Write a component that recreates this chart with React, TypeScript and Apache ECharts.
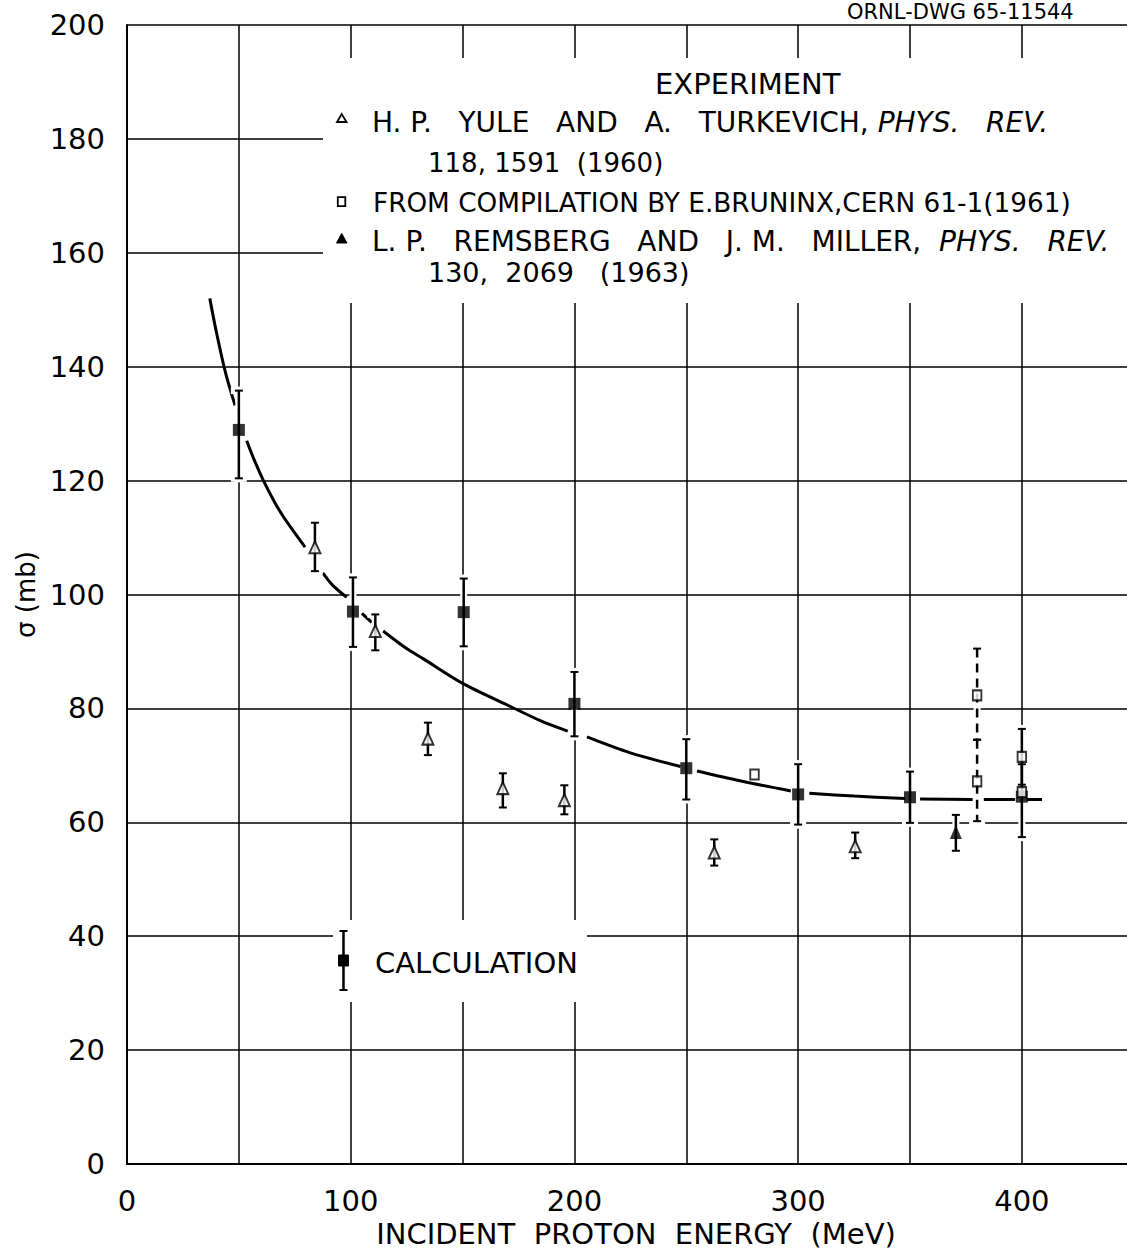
import React, { useEffect, useRef } from "react";
import * as echarts from "echarts";

// ---------------- data ----------------
// Calculation (filled squares with error bars)
const calcEnergy = [50, 101, 150.5, 200, 250, 300, 350, 400];
const calcSigma = [128.9, 97.0, 96.9, 80.8, 69.5, 64.9, 64.4, 64.5];
const calcLow = [120.4, 90.8, 90.9, 75.1, 64.0, 59.6, 59.9, 57.4];
const calcHigh = [135.8, 103.0, 102.8, 86.4, 74.6, 70.2, 68.9, 70.2];

// H. P. Yule and A. Turkevich (open triangles)
const yuleEnergy = [84, 111, 134.5, 168, 195.5, 262.5, 325.5];
const yuleSigma = [108.3, 93.6, 74.7, 66.0, 63.9, 54.7, 55.8];
const yuleLow = [104.1, 90.2, 71.8, 62.6, 61.4, 52.4, 53.7];
const yuleHigh = [112.6, 96.5, 77.5, 68.6, 66.5, 57.0, 58.2];

// E. Bruninx compilation (open squares)
const bruninxEnergy = [280.5, 380, 380, 400, 400];
const bruninxSigma = [68.4, 82.3, 67.2, 71.5, 65.3];
// solid error bar on the compilation points
const bruninxBarEnergy = [400];
const bruninxBarLow = [66.6];
const bruninxBarHigh = [76.4];
// dashed (range) error bars on the compilation points
const bruninxRangeEnergy = [380, 380];
const bruninxRangeLow = [74.5, 60.2];
const bruninxRangeHigh = [90.5, 74.5];

// L. P. Remsberg and J. M. Miller (filled triangle)
const remsbergEnergy = [370.5];
const remsbergSigma = [58.3];
const remsbergLow = [55.0];
const remsbergHigh = [61.3];

// Calculated curve (null = gap left in the drawn line)
const curveEnergy = [37, 40, 44, 48.3, null, 53.5, 57, 61, 66, 70, 75, 79.6, null, 87.5, 92, 98.2, null, 105, 109.4, null, 114.5, 125, 132.5, 150, 170, 185, 197, null, 205.6, 225, 247.4, null, 254.8, 275, 296.7, null, 305, 325, 347.8, null, 354.5, 378, null, 383, 397, null, 402, 409];
const curveSigma = [152, 146, 139, 133.2, null, 127, 123.5, 120, 116.2, 113.6, 110.8, 108.3, null, 103.8, 101.6, 99.5, null, 96.7, 95.1, null, 93.6, 90.5, 88.7, 84.4, 80.6, 77.8, 76.0, null, 75.0, 72.2, 69.8, null, 69.0, 67.2, 65.5, null, 65.1, 64.6, 64.2, null, 64.1, 64.0, null, 64.0, 64.0, null, 64.0, 64.0];

// axes
const xMin = 0;
const xMax = 447;
const xStep = 50;
const xLabelStep = 100;
const yMin = 0;
const yMax = 200;
const yStep = 20;

const xTitle = "INCIDENT  PROTON  ENERGY  (MeV)";
const yTitle = "σ (mb)";
const drawingId = "ORNL-DWG 65-11544";

// ---------------- helpers ----------------
const FONT = '"DejaVu Sans", sans-serif';

const pairs = (xs: (number | null)[], ys: (number | null)[]) =>
  xs.map((x, i) => (x === null || ys[i] === null ? ["-", "-"] : [x, ys[i]]));

const bars = (xs: number[], lo: number[], hi: number[]) =>
  xs.map((x, i) => [x, lo[i], hi[i]]);

function barRenderer(kind: "halo" | "solid" | "dashed") {
  return (params: any, api: any) => {
    const x = api.value(0);
    const lo = api.value(1);
    const hi = api.value(2);
    const pLo = api.coord([x, lo]);
    const pHi = api.coord([x, hi]);
    const cap = 4;
    const ext = kind === "halo" ? 4 : 0;
    const style =
      kind === "halo"
        ? { stroke: "#fff", lineWidth: 7, fill: null }
        : { stroke: "#000", lineWidth: 2.5, fill: null, lineDash: kind === "dashed" ? [9, 6] : null };
    const capStyle =
      kind === "halo" ? { stroke: "#fff", lineWidth: 7 } : { stroke: "#000", lineWidth: 2 };
    return {
      type: "group",
      children: [
        {
          type: "line",
          shape: { x1: pHi[0], y1: pHi[1] - ext, x2: pLo[0], y2: pLo[1] + ext },
          style,
        },
        {
          type: "line",
          shape: { x1: pHi[0] - cap - ext, y1: pHi[1], x2: pHi[0] + cap + ext, y2: pHi[1] },
          style: capStyle,
        },
        {
          type: "line",
          shape: { x1: pLo[0] - cap - ext, y1: pLo[1], x2: pLo[0] + cap + ext, y2: pLo[1] },
          style: capStyle,
        },
      ],
    };
  };
}

export default function App() {
  const ref = useRef<HTMLDivElement>(null);

  useEffect(() => {
    if (!ref.current) return;
    const chart = echarts.init(ref.current, null, { renderer: "svg" });

    const allBars = [
      ...bars(calcEnergy, calcLow, calcHigh),
      ...bars(yuleEnergy, yuleLow, yuleHigh),
      ...bars(bruninxBarEnergy, bruninxBarLow, bruninxBarHigh),
      ...bars(bruninxRangeEnergy, bruninxRangeLow, bruninxRangeHigh),
      ...bars(remsbergEnergy, remsbergLow, remsbergHigh),
    ];
    const solidBars = [
      ...bars(calcEnergy, calcLow, calcHigh),
      ...bars(yuleEnergy, yuleLow, yuleHigh),
      ...bars(bruninxBarEnergy, bruninxBarLow, bruninxBarHigh),
      ...bars(remsbergEnergy, remsbergLow, remsbergHigh),
    ];
    const dashedBars = bars(bruninxRangeEnergy, bruninxRangeLow, bruninxRangeHigh);

    const textBase = { fontFamily: FONT, fill: "#000" };
    const italic = { fontStyle: "italic", fontFamily: FONT, fontSize: 28, fill: "#000" };

    const option: any = {
      animation: false,
      backgroundColor: "#fff",
      textStyle: { fontFamily: FONT },
      grid: { left: 127, top: 25, bottom: 92, right: 0, containLabel: false },
      xAxis: {
        type: "value",
        min: xMin,
        max: xMax,
        interval: xStep,
        name: xTitle,
        nameLocation: "middle",
        nameGap: 55,
        nameTextStyle: { fontFamily: FONT, fontSize: 29, color: "#000", padding: [0, 0, 0, 18] },
        axisLine: { show: true, lineStyle: { color: "#000", width: 2 } },
        axisTick: { show: false },
        splitLine: { show: true, showMaxLine: false, lineStyle: { color: "#000", width: 1.5 } },
        axisLabel: {
          fontFamily: FONT,
          fontSize: 29,
          color: "#000",
          margin: 22,
          showMaxLabel: false,
          formatter: (v: number) => (v % xLabelStep === 0 ? String(v) : ""),
        },
      },
      yAxis: {
        type: "value",
        min: yMin,
        max: yMax,
        interval: yStep,
        name: yTitle,
        nameLocation: "middle",
        nameGap: 86,
        nameRotate: 90,
        nameTextStyle: { fontFamily: FONT, fontSize: 26, color: "#000" },
        axisLine: { show: true, lineStyle: { color: "#000", width: 2 } },
        axisTick: { show: false },
        splitLine: { show: true, lineStyle: { color: "#000", width: 1.5 } },
        axisLabel: { fontFamily: FONT, fontSize: 29, color: "#000", margin: 22 },
      },
      graphic: [
        // white patches behind the legends (grid is interrupted there)
        { type: "rect", z: 1, shape: { x: 323, y: 58, width: 820, height: 245 }, style: { fill: "#fff" } },
        { type: "rect", z: 1, shape: { x: 333, y: 920, width: 254, height: 82 }, style: { fill: "#fff" } },
        // drawing number
        {
          type: "text",
          z: 5,
          x: 847,
          y: 1,
          style: { ...textBase, text: drawingId, fontSize: 21, verticalAlign: "top", align: "left" },
        },
        // experiment legend
        { type: "text", z: 5, x: 655, y: 84, style: { ...textBase, text: "EXPERIMENT", fontSize: 29, verticalAlign: "middle" } },
        {
          type: "polygon",
          z: 5,
          shape: { points: [[337, 122], [346.5, 122], [341.7, 114]] },
          style: { fill: "#fff", stroke: "#000", lineWidth: 1.8 },
        },
        {
          type: "text",
          z: 5,
          x: 372,
          y: 122.5,
          style: {
            ...textBase,
            text: "H. P.   YULE   AND   A.   TURKEVICH, {i|PHYS.   REV.}",
            fontSize: 28,
            verticalAlign: "middle",
            rich: { i: italic },
          },
        },
        { type: "text", z: 5, x: 428, y: 163, style: { ...textBase, text: "118, 1591  (1960)", fontSize: 26, verticalAlign: "middle" } },
        {
          type: "rect",
          z: 5,
          shape: { x: 337.8, y: 197.2, width: 7.5, height: 9 },
          style: { fill: "#fff", stroke: "#000", lineWidth: 1.8 },
        },
        {
          type: "text",
          z: 5,
          x: 373,
          y: 202.5,
          style: { ...textBase, text: "FROM COMPILATION BY E.BRUNINX,CERN 61-1(1961)", fontSize: 26.3, verticalAlign: "middle" },
        },
        {
          type: "polygon",
          z: 5,
          shape: { points: [[336.5, 243], [347, 243], [341.7, 233.5]] },
          style: { fill: "#000", stroke: "#000", lineWidth: 1 },
        },
        {
          type: "text",
          z: 5,
          x: 372,
          y: 241,
          style: {
            ...textBase,
            text: "L. P.   REMSBERG   AND   J. M.   MILLER,  {i|PHYS.   REV.}",
            fontSize: 28,
            verticalAlign: "middle",
            rich: { i: italic },
          },
        },
        { type: "text", z: 5, x: 428, y: 272, style: { ...textBase, text: "130,  2069   (1963)", fontSize: 27, verticalAlign: "middle" } },
        // calculation legend
        { type: "line", z: 5, shape: { x1: 343.5, y1: 931, x2: 343.5, y2: 990 }, style: { stroke: "#000", lineWidth: 2.5 } },
        { type: "line", z: 5, shape: { x1: 339.5, y1: 931, x2: 347.5, y2: 931 }, style: { stroke: "#000", lineWidth: 2 } },
        { type: "line", z: 5, shape: { x1: 339.5, y1: 990, x2: 347.5, y2: 990 }, style: { stroke: "#000", lineWidth: 2 } },
        { type: "rect", z: 5, shape: { x: 338, y: 954.5, width: 11, height: 12, r: 1 }, style: { fill: "#000" } },
        { type: "text", z: 5, x: 375, y: 962.5, style: { ...textBase, text: "CALCULATION", fontSize: 29, verticalAlign: "middle" } },
      ],
      series: [
        {
          name: "Calculation curve",
          type: "line",
          data: pairs(curveEnergy, curveSigma),
          smooth: 0.3,
          connectNulls: false,
          showSymbol: false,
          lineStyle: { color: "#000", width: 3 },
          z: 2,
        },
        {
          name: "bar halo",
          type: "custom",
          renderItem: barRenderer("halo"),
          data: allBars,
          encode: { x: 0, y: [1, 2] },
          z: 3,
          silent: true,
        },
        {
          name: "bars",
          type: "custom",
          renderItem: barRenderer("solid"),
          data: solidBars,
          encode: { x: 0, y: [1, 2] },
          z: 4,
          silent: true,
        },
        {
          name: "range bars",
          type: "custom",
          renderItem: barRenderer("dashed"),
          data: dashedBars,
          encode: { x: 0, y: [1, 2] },
          z: 4,
          silent: true,
        },
        {
          name: "Calculation",
          type: "scatter",
          symbol: "rect",
          symbolSize: [12, 12],
          data: pairs(calcEnergy, calcSigma),
          itemStyle: { color: "#000" },
          z: 6,
        },
        {
          name: "Yule and Turkevich",
          type: "scatter",
          symbol: "triangle",
          symbolSize: [11, 12],
          data: pairs(yuleEnergy, yuleSigma),
          itemStyle: { color: "#fff", borderColor: "#000", borderWidth: 2 },
          z: 6,
        },
        {
          name: "Bruninx",
          type: "scatter",
          symbol: "rect",
          symbolSize: [8.5, 10],
          data: pairs(bruninxEnergy, bruninxSigma),
          itemStyle: { color: "#fff", borderColor: "#000", borderWidth: 2 },
          z: 7,
        },
        {
          name: "Remsberg and Miller",
          type: "scatter",
          symbol: "triangle",
          symbolSize: [12, 14],
          data: pairs(remsbergEnergy, remsbergSigma),
          itemStyle: { color: "#000" },
          z: 6,
        },
      ],
    };

    chart.setOption(option);
    return () => chart.dispose();
  }, []);

  return (
    <div
      ref={ref}
      style={{ position: "absolute", left: 0, top: 0, width: 1127, height: 1256, background: "#fff" }}
    />
  );
}
